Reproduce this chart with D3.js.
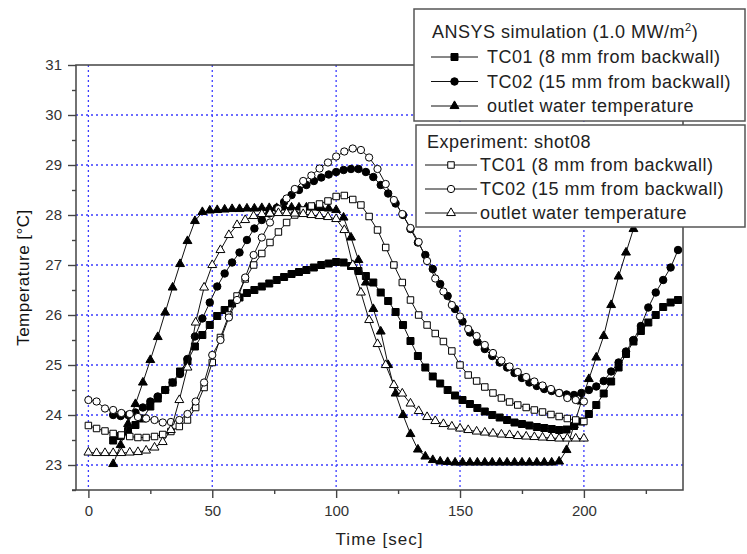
<!DOCTYPE html>
<html>
<head>
<meta charset="utf-8">
<script src="https://cdn.jsdelivr.net/npm/d3@7/dist/d3.min.js"></script>
<style>
  body { margin: 0; background: #fff; }
  svg text { font-family: "Liberation Sans", Arial, sans-serif; }
</style>
</head>
<body>
<div id="chart"></div>
<script>
// time samples (sec)
let simTime = [10, 13, 16, 19, 22, 25, 28, 31, 34, 37,
  40, 43, 46, 49, 52, 55, 58, 61, 64, 67,
  70, 73, 76, 79, 82, 85, 88, 91, 94, 97,
  100, 103, 106, 109, 112, 115, 118, 121, 124, 127,
  130, 133, 136, 139, 142, 145, 148, 151, 154, 157,
  160, 163, 166, 169, 172, 175, 178, 181, 184, 187,
  190, 193, 196, 199, 202, 205, 208, 211, 214, 217,
  220, 223, 226, 229, 232, 235, 238];
let expTime = [0, 3.3, 6.7, 10, 13.3, 16.7, 20, 23.3, 26.7, 30,
  33.3, 36.7, 40, 43.3, 46.7, 50, 53.3, 56.7, 60, 63.3,
  66.7, 70, 73.3, 76.7, 80, 83.3, 86.7, 90, 93.3, 96.7,
  100, 103.3, 106.7, 110, 113.3, 116.7, 120, 123.3, 126.7, 130,
  133.3, 136.7, 140, 143.3, 146.7, 150, 153.3, 156.7, 160, 163.3,
  166.7, 170, 173.3, 176.7, 180, 183.3, 186.7, 190, 193.3, 196.7,
  200];

// ANSYS simulation
let simTC01 = [23.49, 23.58, 23.68, 23.8, 23.93, 24.17, 24.33, 24.5, 24.65, 24.87,
  25.08, 25.37, 25.6, 25.8, 25.98, 26.1, 26.23, 26.35, 26.44, 26.5,
  26.57, 26.63, 26.7, 26.76, 26.82, 26.86, 26.9, 26.95, 27.0, 27.03,
  27.06, 27.05, 26.98, 26.88, 26.78, 26.65, 26.45, 26.28, 26.06, 25.8,
  25.48, 25.18, 24.95, 24.77, 24.63, 24.5, 24.39, 24.3, 24.22, 24.14,
  24.07, 24.0, 23.95, 23.9, 23.85, 23.82, 23.79, 23.76, 23.74, 23.72,
  23.7, 23.71, 23.78, 23.87, 24.02, 24.2, 24.43, 24.67, 24.95, 25.22,
  25.47, 25.68, 25.85, 26.0, 26.16, 26.25, 26.3];
let simTC02 = [24.0, 23.98, 24.0, 24.05, 24.15, 24.27, 24.37, 24.5, 24.65, 24.82,
  25.12, 25.57, 25.93, 26.25, 26.57, 26.83, 27.05, 27.25, 27.5, 27.73,
  27.9, 28.03, 28.14, 28.26, 28.4, 28.5, 28.6, 28.68, 28.75, 28.81,
  28.86, 28.9, 28.92, 28.92, 28.86, 28.76, 28.6, 28.43, 28.23, 28.0,
  27.72, 27.45, 27.2, 26.92, 26.62, 26.38, 26.12, 25.87, 25.65, 25.46,
  25.32, 25.18, 25.05, 24.95, 24.84, 24.74, 24.65, 24.58, 24.52, 24.48,
  24.44, 24.41, 24.4, 24.44, 24.5, 24.57, 24.68, 24.87, 25.05, 25.27,
  25.5, 25.78, 26.15, 26.45, 26.7, 26.95, 27.3];
let simOutlet = [23.02, 23.4, 23.82, 24.22, 24.65, 25.1, 25.56, 26.05, 26.55, 27.02,
  27.48, 27.88, 28.06, 28.09, 28.1, 28.11, 28.12, 28.12, 28.13, 28.13,
  28.14, 28.14, 28.14, 28.15, 28.15, 28.15, 28.15, 28.15, 28.14, 28.13,
  28.1, 27.95, 27.55, 27.1, 26.65, 26.12, 25.67, 25.0, 24.43, 24.0,
  23.62, 23.31, 23.17, 23.1, 23.07, 23.06, 23.05, 23.05, 23.05, 23.05,
  23.05, 23.05, 23.05, 23.05, 23.05, 23.05, 23.05, 23.05, 23.05, 23.05,
  23.07, 23.3, 23.8, 24.27, 24.72, 25.15, 25.58, 26.2, 26.77, 27.25,
  27.72, 28.0, 28.08, 28.1, 28.1, 28.1, 28.1];

// Experiment shot08
let expTC01 = [23.79, 23.73, 23.68, 23.63, 23.6, 23.57, 23.55, 23.55, 23.57, 23.61,
  23.67, 23.77, 23.9, 24.15, 24.55, 25.05, 25.55, 26.0, 26.38, 26.72,
  27.0, 27.23, 27.45, 27.66, 27.85, 28.0, 28.1, 28.18, 28.22, 28.28,
  28.37, 28.39, 28.31, 28.2, 27.97, 27.7, 27.35, 27.0, 26.65, 26.3,
  26.0, 25.8, 25.63, 25.47, 25.28, 25.0, 24.8, 24.68, 24.56, 24.44,
  24.34, 24.26, 24.2, 24.15, 24.1, 24.06, 24.01, 23.97, 23.93, 23.9,
  23.87];
let expTC02 = [24.3, 24.27, 24.13, 24.1, 24.04, 24.02, 23.96, 23.93, 23.9, 23.85,
  23.86, 23.9, 24.02, 24.27, 24.65, 25.2, 25.5, 25.95, 26.3, 26.75,
  27.2, 27.55, 27.85, 28.12, 28.33, 28.52, 28.68, 28.79, 28.93, 29.05,
  29.17, 29.27, 29.33, 29.3, 29.15, 28.92, 28.62, 28.3, 28.02, 27.74,
  27.46, 27.08, 26.73, 26.47, 26.2, 25.97, 25.72, 25.58, 25.4, 25.24,
  25.09, 24.97, 24.86, 24.76, 24.67, 24.59, 24.52, 24.44, 24.34, 24.3,
  24.27];
let expOutlet = [23.25, 23.24, 23.24, 23.24, 23.24, 23.25, 23.26, 23.29, 23.35, 23.46,
  23.7, 24.3, 24.95, 25.85, 26.55, 27.0, 27.3, 27.6, 27.8, 27.9,
  27.98, 28.02, 28.03, 28.04, 28.04, 28.03, 28.02, 28.0, 27.98, 27.96,
  27.92, 27.7, 27.0, 26.45, 25.9, 25.42, 25.0, 24.6, 24.43, 24.23,
  24.08, 23.96, 23.88, 23.82, 23.77, 23.73, 23.7, 23.67, 23.65, 23.63,
  23.61, 23.6, 23.58, 23.57, 23.56, 23.55, 23.54, 23.53, 23.53, 23.53,
  23.53];

let xTicks = [0, 50, 100, 150, 200];
let xMinor = [25, 75, 125, 175, 225];
let yTicks = [23, 24, 25, 26, 27, 28, 29, 30, 31];
let yMinor = [22.5, 23.5, 24.5, 25.5, 26.5, 27.5, 28.5, 29.5, 30.5];

let simLabels = ["TC01 (8 mm from backwall)", "TC02 (15 mm from backwall)", "outlet water temperature"];
let expLabels = ["TC01 (8 mm from backwall)", "TC02 (15 mm from backwall)", "outlet water temperature"];

let width = 747, height = 554;
let pLeft = 76, pRight = 683, pTop = 65, pBottom = 490;

let svg = d3.select("#chart").append("svg")
  .attr("width", width)
  .attr("height", height);

let x = d3.scaleLinear().domain([-5, 240]).range([pLeft, pRight]);
let y = d3.scaleLinear().domain([22.5, 31]).range([pBottom, pTop]);

// grille pointillée bleue
let grid = svg.append("g")
  .attr("stroke", "#3c3cff")
  .attr("stroke-width", 1.3)
  .attr("stroke-dasharray", "2,3");
grid.selectAll("line.gx").data(xTicks).enter().append("line")
  .attr("x1", d => x(d)).attr("x2", d => x(d))
  .attr("y1", pTop).attr("y2", pBottom);
grid.selectAll("line.gy").data(yTicks.filter(d => d < 31)).enter().append("line")
  .attr("x1", pLeft).attr("x2", pRight)
  .attr("y1", d => y(d)).attr("y2", d => y(d));

// axes
function styleAxis(g) {
  g.select(".domain").remove();
  g.selectAll(".tick line").attr("stroke", "#444").attr("stroke-width", 1.4);
  g.selectAll(".tick text").attr("fill", "#333").attr("font-size", 15)
    .attr("font-family", "Liberation Sans, Arial, sans-serif");
}
svg.append("g").attr("transform", "translate(" + pLeft + ",0)")
  .call(d3.axisLeft(y).tickValues(yTicks).tickSize(8).tickPadding(6).tickFormat(d3.format("d")))
  .call(styleAxis);
svg.append("g").attr("transform", "translate(" + pLeft + ",0)")
  .call(d3.axisLeft(y).tickValues(yMinor).tickSize(4).tickFormat(""))
  .call(styleAxis);
svg.append("g").attr("transform", "translate(0," + pBottom + ")")
  .call(d3.axisBottom(x).tickValues(xTicks).tickSize(8).tickPadding(7).tickFormat(d3.format("d")))
  .call(styleAxis);
svg.append("g").attr("transform", "translate(0," + pBottom + ")")
  .call(d3.axisBottom(x).tickValues(xMinor).tickSize(4).tickFormat(""))
  .call(styleAxis);

// cadre
svg.append("rect")
  .attr("x", pLeft).attr("y", pTop)
  .attr("width", pRight - pLeft).attr("height", pBottom - pTop)
  .attr("fill", "none").attr("stroke", "#444").attr("stroke-width", 1.5);
svg.append("line")
  .attr("x1", pLeft - 4).attr("x2", pLeft).attr("y1", pBottom).attr("y2", pBottom)
  .attr("stroke", "#444").attr("stroke-width", 1.5);

// titres des axes
svg.append("text")
  .attr("x", (pLeft + pRight) / 2).attr("y", 545)
  .attr("text-anchor", "middle")
  .attr("font-size", 17).attr("letter-spacing", 1)
  .attr("fill", "#222")
  .text("Time [sec]");
svg.append("text")
  .attr("transform", "translate(29," + ((pTop + pBottom) / 2) + ") rotate(-90)")
  .attr("text-anchor", "middle")
  .attr("font-size", 17).attr("letter-spacing", 0.5)
  .attr("fill", "#111")
  .text("Temperature [°C]");

// séries
let series = [
  { t: simTime, v: simTC01, shape: d3.symbolSquare, size: 49, fill: "#000" },
  { t: simTime, v: simTC02, shape: d3.symbolCircle, size: 44, fill: "#000" },
  { t: simTime, v: simOutlet, shape: d3.symbolTriangle, size: 34, fill: "#000" },
  { t: expTime, v: expTC01, shape: d3.symbolSquare, size: 42, fill: "#fff" },
  { t: expTime, v: expTC02, shape: d3.symbolCircle, size: 42, fill: "#fff" },
  { t: expTime, v: expOutlet, shape: d3.symbolTriangle, size: 34, fill: "#fff" }
];

let line = d3.line().x(d => x(d[0])).y(d => y(d[1]));

series.forEach(function(s) {
  let pts = d3.zip(s.t, s.v);
  svg.append("path")
    .datum(pts)
    .attr("d", line)
    .attr("fill", "none")
    .attr("stroke", "#111")
    .attr("stroke-width", 1);
  svg.append("g").selectAll("path")
    .data(pts)
    .enter().append("path")
    .attr("d", d3.symbol().type(s.shape).size(s.size))
    .attr("transform", d => "translate(" + x(d[0]) + "," + y(d[1]) + ")")
    .attr("fill", s.fill)
    .attr("stroke", "#000")
    .attr("stroke-width", 1);
});

// légendes
function legendBox(x0, y0, x1, y1, title, labels, items, sym) {
  let g = svg.append("g");
  g.append("rect")
    .attr("x", x0).attr("y", y0)
    .attr("width", x1 - x0).attr("height", y1 - y0)
    .attr("fill", "#fff").attr("stroke", "#555").attr("stroke-width", 1.5);
  let t = g.append("text")
    .attr("x", title.x).attr("y", title.y)
    .attr("font-size", 18).attr("letter-spacing", 0.5).attr("fill", "#222");
  title.parts(t);
  labels.forEach(function(lab, i) {
    let yy = items.y0 + i * items.dy;
    let s = series[sym.offset + i];
    g.append("line")
      .attr("x1", sym.x0).attr("x2", sym.x1)
      .attr("y1", yy - 6).attr("y2", yy - 6)
      .attr("stroke", "#111").attr("stroke-width", 1);
    g.append("path")
      .attr("d", d3.symbol().type(s.shape).size(s.size))
      .attr("transform", "translate(" + ((sym.x0 + sym.x1) / 2) + "," + (yy - 6) + ")")
      .attr("fill", s.fill)
      .attr("stroke", "#000").attr("stroke-width", 1);
    g.append("text")
      .attr("x", items.x).attr("y", yy)
      .attr("font-size", 18).attr("letter-spacing", 0.5).attr("fill", "#222")
      .text(lab);
  });
}

legendBox(414, 9, 745, 121,
  { x: 432, y: 38, parts: function(t) {
      t.append("tspan").text("ANSYS simulation (1.0 MW/m");
      t.append("tspan").attr("dy", -7).attr("font-size", 11).text("2");
      t.append("tspan").attr("dy", 7).text(")");
    } },
  simLabels, { x: 487, y0: 63, dy: 24.5 }, { x0: 431, x1: 478, offset: 0 });

legendBox(416, 125, 745, 227,
  { x: 427, y: 148, parts: function(t) {
      t.text("Experiment: shot08");
    } },
  expLabels, { x: 480, y0: 171, dy: 24 }, { x0: 425, x1: 477, offset: 3 });
</script>
</body>
</html>
